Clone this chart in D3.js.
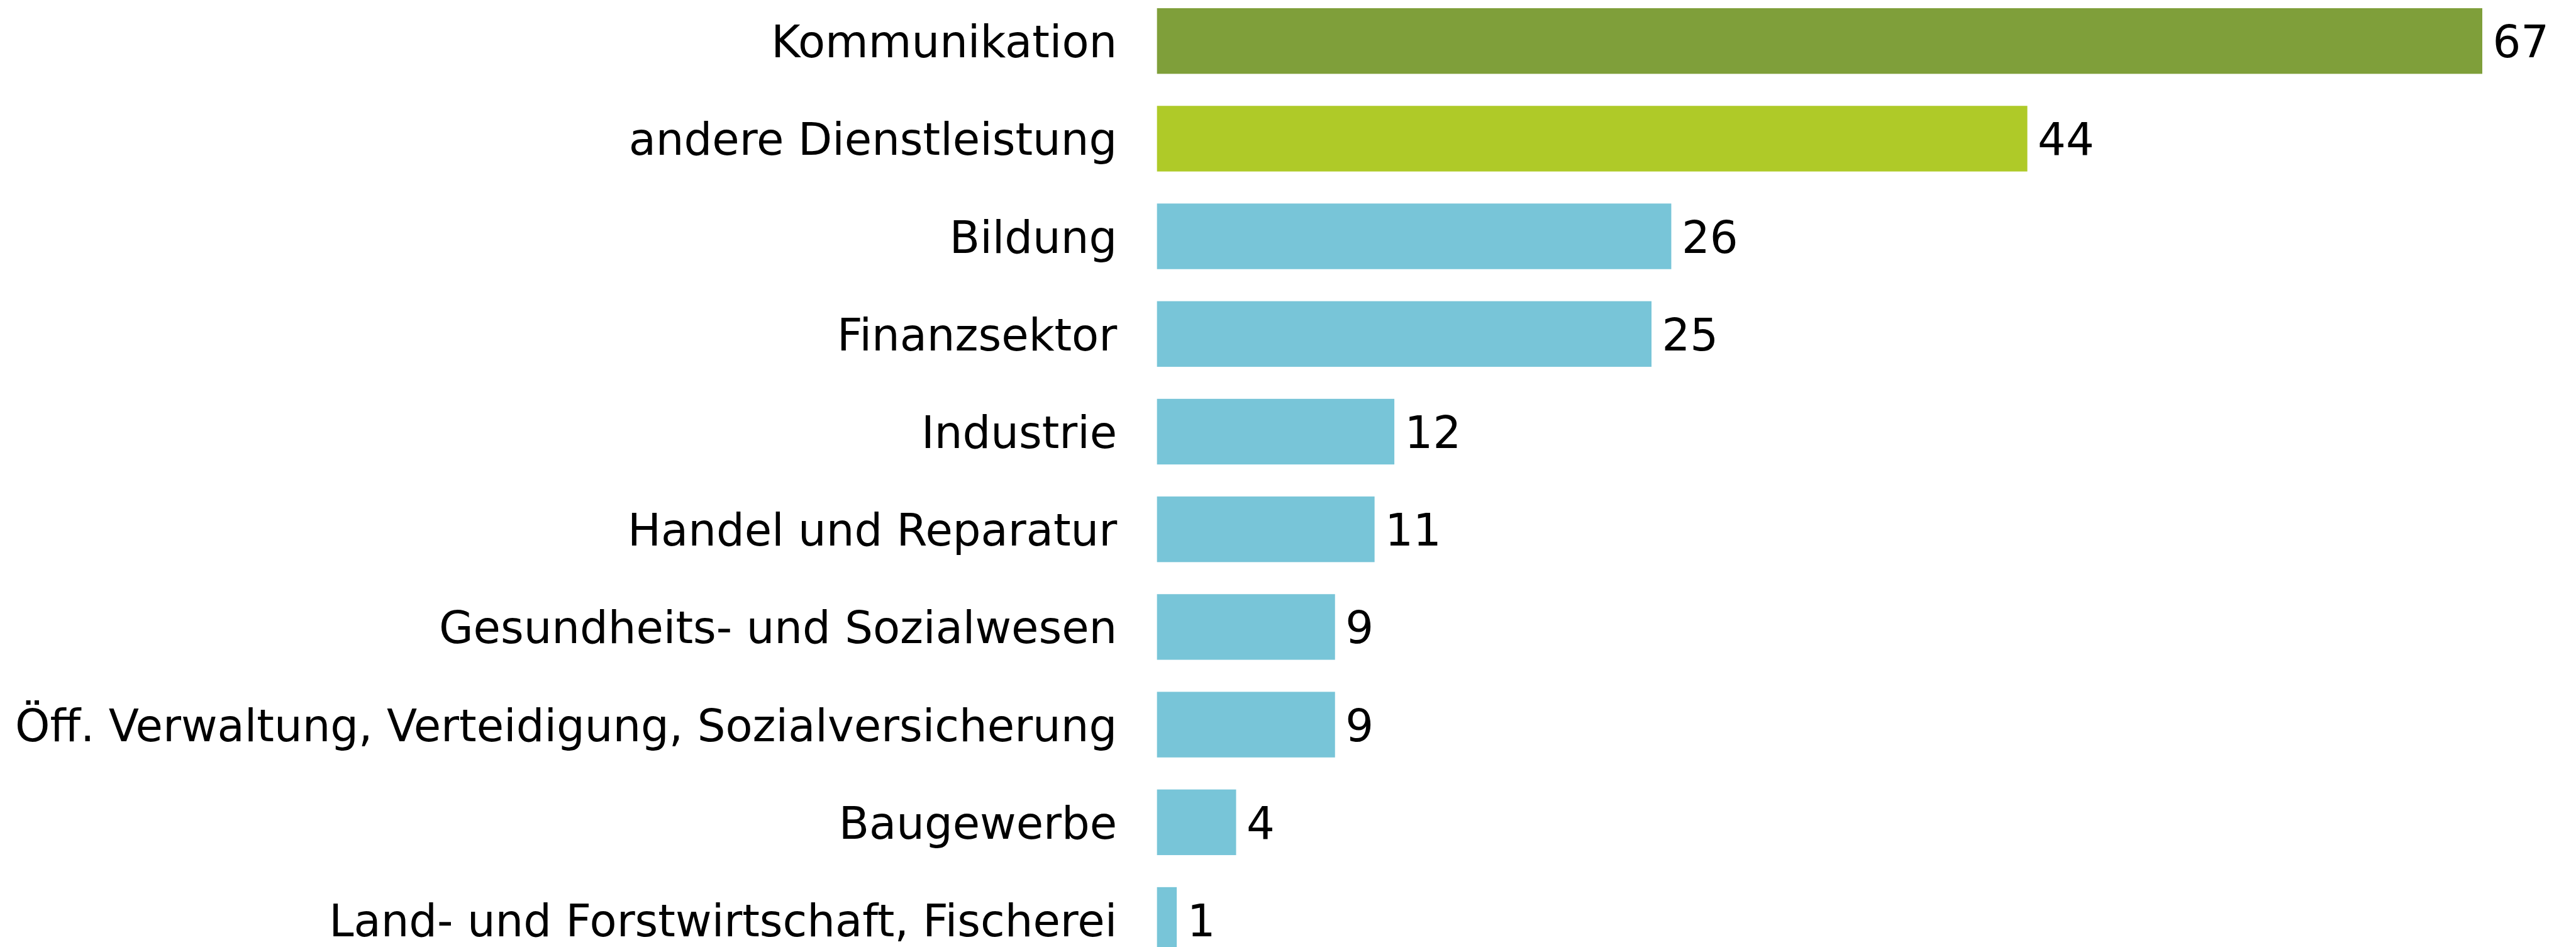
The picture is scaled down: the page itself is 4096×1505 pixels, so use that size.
<!DOCTYPE html>
<html>
<head>
<meta charset="utf-8">
<script src="https://cdn.jsdelivr.net/npm/d3@7"></script>
<style>
  html, body { margin: 0; padding: 0; background: #ffffff; }
  svg { display: block; }
</style>
</head>
<body>
<svg id="chart" width="4096" height="1505"></svg>
<script>
const categories = [
  "Kommunikation",
  "andere Dienstleistung",
  "Bildung",
  "Finanzsektor",
  "Industrie",
  "Handel und Reparatur",
  "Gesundheits- und Sozialwesen",
  "Öff. Verwaltung, Verteidigung, Sozialversicherung",
  "Baugewerbe",
  "Land- und Forstwirtschaft, Fischerei"
];
const values = [67, 44, 26, 25, 12, 11, 9, 9, 4, 1];
const barColors = ["#7f9f3a", "#afca28", "#78c5d8", "#78c5d8", "#78c5d8", "#78c5d8", "#78c5d8", "#78c5d8", "#78c5d8", "#78c5d8"];

const S = 0.869;
const svg = d3.select("#chart");
const fontFamily = "'DejaVu Sans', Verdana, sans-serif";
const fontSize = 82 * S;

const x = d3.scaleLinear().domain([0, 67]).range([2117 * S, 4542 * S]);
const y = d3.scaleBand().domain(categories)
  .range([15 * S, 15 * S + (9 * 178.6 + 120) * S])
  .paddingInner(0.328).paddingOuter(0);

// bars
svg.append("g").selectAll("rect").data(categories).join("rect")
  .attr("x", x(0))
  .attr("y", d => y(d))
  .attr("width", (d, i) => x(values[i]) - x(0))
  .attr("height", y.bandwidth())
  .attr("fill", (d, i) => barColors[i]);

// measure horizontal compression for category labels
const probe = svg.append("text").attr("font-family", fontFamily).attr("font-size", fontSize).text("Kommunikation");
const measured = probe.node().getComputedTextLength();
probe.remove();
const targetAdvance = 550;
const sx = Math.min(1, targetAdvance / measured);

const labelRight = 2044 * S;
const capOffset = 0.3645 * fontSize;

// category labels
svg.append("g").selectAll("g").data(categories).join("g")
  .attr("transform", d => `translate(${labelRight},${y(d) + y.bandwidth() / 2 + capOffset}) scale(${sx},1)`)
  .append("text")
  .attr("text-anchor", "end")
  .attr("font-family", fontFamily)
  .attr("font-size", fontSize)
  .attr("fill", "#000000")
  .text(d => d);

// value labels
svg.append("g").selectAll("g").data(categories).join("g")
  .attr("transform", (d, i) => `translate(${x(values[i]) + 19 * S},${y(d) + y.bandwidth() / 2 + capOffset}) scale(${Math.max(sx, 0.92)},1)`)
  .append("text")
  .attr("text-anchor", "start")
  .attr("font-family", fontFamily)
  .attr("font-size", fontSize)
  .attr("fill", "#000000")
  .text((d, i) => values[i]);
</script>
</body>
</html>
